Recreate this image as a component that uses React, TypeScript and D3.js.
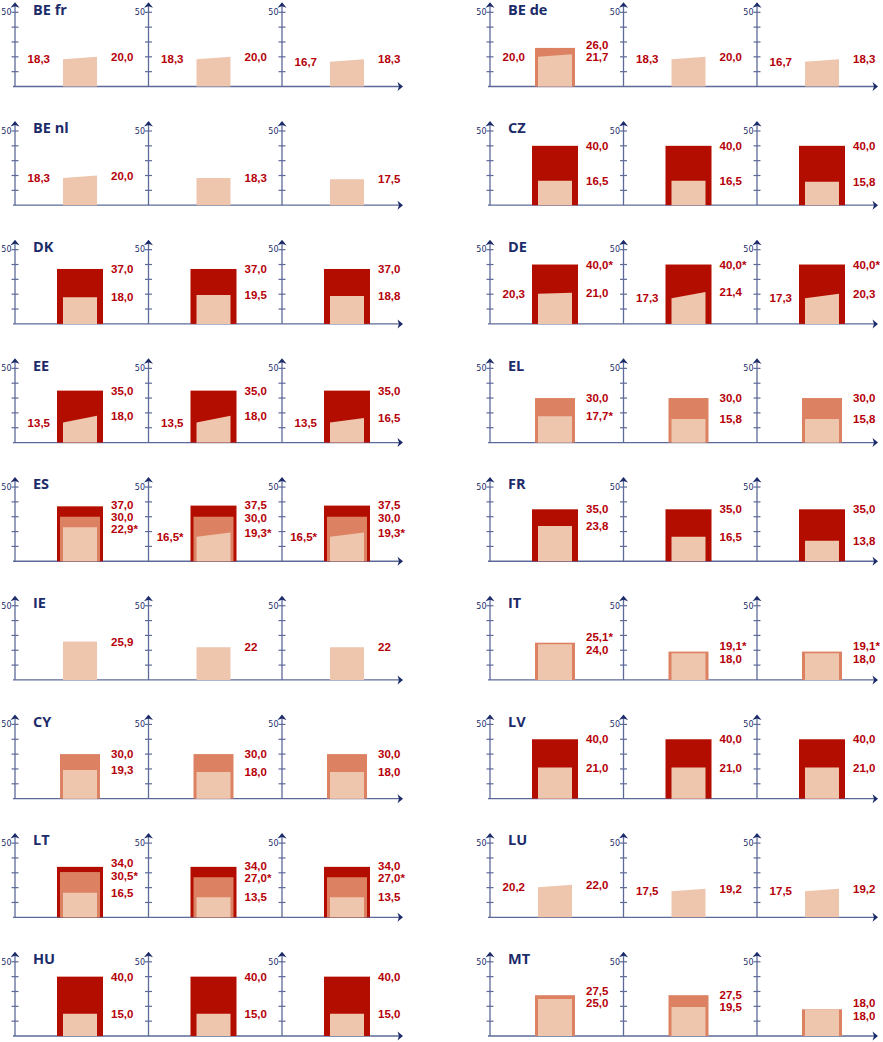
import React from "react";
import * as d3 from "d3";

// panels, row by row: left column then right column
const countries = ["BE fr", "BE de", "BE nl", "CZ", "DK", "DE", "EE", "EL", "ES", "FR", "IE", "IT", "CY", "LV", "LT", "LU", "HU", "MT"];

type V = number | null;
type L = string | null;

// outer dark bar (maximum)
const darkValues: V[][] = [
  [null, null, null], [null, null, null], [null, null, null], [40, 40, 40],
  [37, 37, 37], [40, 40, 40], [35, 35, 35], [null, null, null],
  [37, 37.5, 37.5], [35, 35, 35], [null, null, null], [null, null, null],
  [null, null, null], [40, 40, 40], [34, 34, 34], [null, null, null],
  [40, 40, 40], [null, null, null],
];
const darkLabels: L[][] = [
  [null, null, null], [null, null, null], [null, null, null], ["40,0", "40,0", "40,0"],
  ["37,0", "37,0", "37,0"], ["40,0*", "40,0*", "40,0*"], ["35,0", "35,0", "35,0"], [null, null, null],
  ["37,0", "37,5", "37,5"], ["35,0", "35,0", "35,0"], [null, null, null], [null, null, null],
  [null, null, null], ["40,0", "40,0", "40,0"], ["34,0", "34,0", "34,0"], [null, null, null],
  ["40,0", "40,0", "40,0"], [null, null, null],
];

// middle bar
const midValues: V[][] = [
  [null, null, null], [26.0, null, null], [null, null, null], [null, null, null],
  [null, null, null], [null, null, null], [null, null, null], [30, 30, 30],
  [30, 30, 30], [null, null, null], [null, null, null], [25.1, 19.1, 19.1],
  [30, 30, 30], [null, null, null], [30.5, 27, 27], [null, null, null],
  [null, null, null], [27.5, 27.5, 18.0],
];
const midLabels: L[][] = [
  [null, null, null], ["26,0", null, null], [null, null, null], [null, null, null],
  [null, null, null], [null, null, null], [null, null, null], ["30,0", "30,0", "30,0"],
  ["30,0", "30,0", "30,0"], [null, null, null], [null, null, null], ["25,1*", "19,1*", "19,1*"],
  ["30,0", "30,0", "30,0"], [null, null, null], ["30,5*", "27,0*", "27,0*"], [null, null, null],
  [null, null, null], ["27,5", "27,5", "18,0"],
];

// inner light bar, height at left and right edge
const lowStart: number[][] = [
  [18.3, 18.3, 16.7], [20.0, 18.3, 16.7], [18.3, 18.3, 17.5], [16.5, 16.5, 15.8],
  [18.0, 19.5, 18.8], [20.3, 17.3, 17.3], [13.5, 13.5, 13.5], [17.7, 15.8, 15.8],
  [22.9, 16.5, 16.5], [23.8, 16.5, 13.8], [25.9, 22, 22], [24.0, 18.0, 18.0],
  [19.3, 18.0, 18.0], [21.0, 21.0, 21.0], [16.5, 13.5, 13.5], [20.2, 17.5, 17.5],
  [15.0, 15.0, 15.0], [25.0, 19.5, 18.0],
];
const lowEnd: number[][] = [
  [20.0, 20.0, 18.3], [21.7, 20.0, 18.3], [20.0, 18.3, 17.5], [16.5, 16.5, 15.8],
  [18.0, 19.5, 18.8], [21.0, 21.4, 20.3], [18.0, 18.0, 16.5], [17.7, 15.8, 15.8],
  [22.9, 19.3, 19.3], [23.8, 16.5, 13.8], [25.9, 22, 22], [24.0, 18.0, 18.0],
  [19.3, 18.0, 18.0], [21.0, 21.0, 21.0], [16.5, 13.5, 13.5], [22.0, 19.2, 19.2],
  [15.0, 15.0, 15.0], [25.0, 19.5, 18.0],
];
const lowStartLabels: L[][] = [
  ["18,3", "18,3", "16,7"], ["20,0", "18,3", "16,7"], ["18,3", null, null], [null, null, null],
  [null, null, null], ["20,3", "17,3", "17,3"], ["13,5", "13,5", "13,5"], [null, null, null],
  [null, "16,5*", "16,5*"], [null, null, null], [null, null, null], [null, null, null],
  [null, null, null], [null, null, null], [null, null, null], ["20,2", "17,5", "17,5"],
  [null, null, null], [null, null, null],
];
const lowEndLabels: L[][] = [
  ["20,0", "20,0", "18,3"], ["21,7", "20,0", "18,3"], ["20,0", "18,3", "17,5"], ["16,5", "16,5", "15,8"],
  ["18,0", "19,5", "18,8"], ["21,0", "21,4", "20,3"], ["18,0", "18,0", "16,5"], ["17,7*", "15,8", "15,8"],
  ["22,9*", "19,3*", "19,3*"], ["23,8", "16,5", "13,8"], ["25,9", "22", "22"], ["24,0", "18,0", "18,0"],
  ["19,3", "18,0", "18,0"], ["21,0", "21,0", "21,0"], ["16,5", "13,5", "13,5"], ["22,0", "19,2", "19,2"],
  ["15,0", "15,0", "15,0"], ["25,0", "19,5", "18,0"],
];

const yMax = 50;

const DARK = "#b30d00";
const MID = "#dc8262";
const LIGHT = "#eec5ad";
const TEXT_RED = "#b50009";
const NAVY = "#1c2b69";
const AXIS = "#5d6a98";
const LABEL_FONT = "'Liberation Sans', Arial, sans-serif";

// push overlapping labels apart, keeping each group centred on its values
function spread(items: { y: number; text: string }[], gap: number) {
  const sorted = [...items].sort((a, b) => a.y - b.y);
  let groups = sorted.map(d => ({ members: [d], center: d.y }));
  let merged = true;
  while (merged) {
    merged = false;
    for (let i = 1; i < groups.length; i++) {
      const a = groups[i - 1], b = groups[i];
      const aBottom = a.center + (a.members.length - 1) * gap / 2;
      const bTop = b.center - (b.members.length - 1) * gap / 2;
      if (bTop - aBottom < gap) {
        const members = a.members.concat(b.members);
        const center = d3.mean(members, m => m.y) as number;
        groups.splice(i - 1, 2, { members, center });
        merged = true;
        break;
      }
    }
  }
  const out: { y: number; text: string }[] = [];
  groups.forEach(g => {
    const top = g.center - (g.members.length - 1) * gap / 2;
    g.members.forEach((m, k) => out.push({ y: top + k * gap, text: m.text }));
  });
  return out;
}

function MiniChart({ p, c, ax, base }: { p: number; c: number; ax: number; base: number }) {
  const y = d3.scaleLinear().domain([0, yMax]).range([base, base - 74.2]);
  const ticks = y.ticks(5).filter(t => t > 0);
  const dark = darkValues[p][c];
  const mid = midValues[p][c];
  const l0 = lowStart[p][c];
  const l1 = lowEnd[p][c];

  const right: { y: number; text: string }[] = [];
  if (dark != null && darkLabels[p][c]) right.push({ y: y(dark), text: darkLabels[p][c] as string });
  if (mid != null && midLabels[p][c]) right.push({ y: y(mid), text: midLabels[p][c] as string });
  if (lowEndLabels[p][c]) right.push({ y: y(l1), text: lowEndLabels[p][c] as string });
  const placed = spread(right, 12.4);

  const area = d3.area<[number, number]>()
    .x(d => d[0])
    .y0(base)
    .y1(d => y(d[1]));
  const lowPath = area([[ax + 48, l0], [ax + 82, l1]]) as string;

  return (
    <g>
      {dark != null && (
        <rect x={ax + 42} y={y(dark)} width={46} height={base - y(dark)} fill={DARK} />
      )}
      {mid != null && (
        <rect x={ax + 45} y={y(mid)} width={40} height={base - y(mid)} fill={MID} />
      )}
      <path d={lowPath} fill={LIGHT} />

      {/* y axis */}
      <line x1={ax} x2={ax} y1={base} y2={y(yMax) - 8} stroke={AXIS} strokeWidth={1.3} />
      {ticks.map(t => (
        <line key={t} x1={ax - 3.5} x2={ax + 3.5} y1={y(t)} y2={y(t)} stroke={AXIS} strokeWidth={1.2} />
      ))}
      <path d={`M${ax},${y(yMax) - 10} L${ax + 4.5},${y(yMax) - 4.5} L${ax},${y(yMax) - 6} L${ax - 4.5},${y(yMax) - 4.5} Z`} fill={NAVY} />
      <text x={ax - 3.5} y={y(yMax)} dy="0.35em" textAnchor="end" fontFamily="DejaVu Sans" fontSize={8} fill={NAVY}>
        {yMax}
      </text>

      {/* value labels */}
      {lowStartLabels[p][c] && (
        <text x={ax + 35} y={y(l0)} dy="0.36em" textAnchor="end" fontFamily={LABEL_FONT} fontWeight="bold" fontSize={11.5} fill={TEXT_RED}>
          {lowStartLabels[p][c]}
        </text>
      )}
      {placed.map((d, i) => (
        <text key={i} x={ax + 96} y={d.y} dy="0.36em" fontFamily={LABEL_FONT} fontWeight="bold" fontSize={11.5} fill={TEXT_RED}>
          {d.text}
        </text>
      ))}
    </g>
  );
}

export default function App() {
  const W = 883, H = 1042;
  const rows = d3.range(9);
  const rowY = d3.scalePoint<number>().domain(rows).range([86.5, 1036]);
  const groupX = d3.scalePoint<number>().domain([0, 1]).range([15, 490]);
  const chartX = d3.scalePoint<number>().domain([0, 1, 2]).range([0, 267]);

  return (
    <svg width={W} height={H} style={{ position: "absolute", left: 0, top: 0, display: "block" }}>
      <rect width={W} height={H} fill="#ffffff" />
      {countries.map((name, p) => {
        const row = Math.floor(p / 2);
        const col = p % 2;
        const base = rowY(row) as number;
        const gx = groupX(col) as number;
        const xEnd = gx + (chartX(2) as number) + 121;
        return (
          <g key={name}>
            <line x1={gx - 2} x2={xEnd - 2} y1={base} y2={base} stroke={AXIS} strokeWidth={1.3} />
            <path d={`M${xEnd},${base} L${xEnd - 5.5},${base - 4.5} L${xEnd - 4},${base} L${xEnd - 5.5},${base + 4.5} Z`} fill={NAVY} />
            {[0, 1, 2].map(c => (
              <MiniChart key={c} p={p} c={c} ax={gx + (chartX(c) as number)} base={base} />
            ))}
            <text x={gx + 18} y={base - 72} fontFamily="Open Sans" fontWeight="bold" fontSize={14.5} fill={NAVY}>
              {name}
            </text>
          </g>
        );
      })}
    </svg>
  );
}
